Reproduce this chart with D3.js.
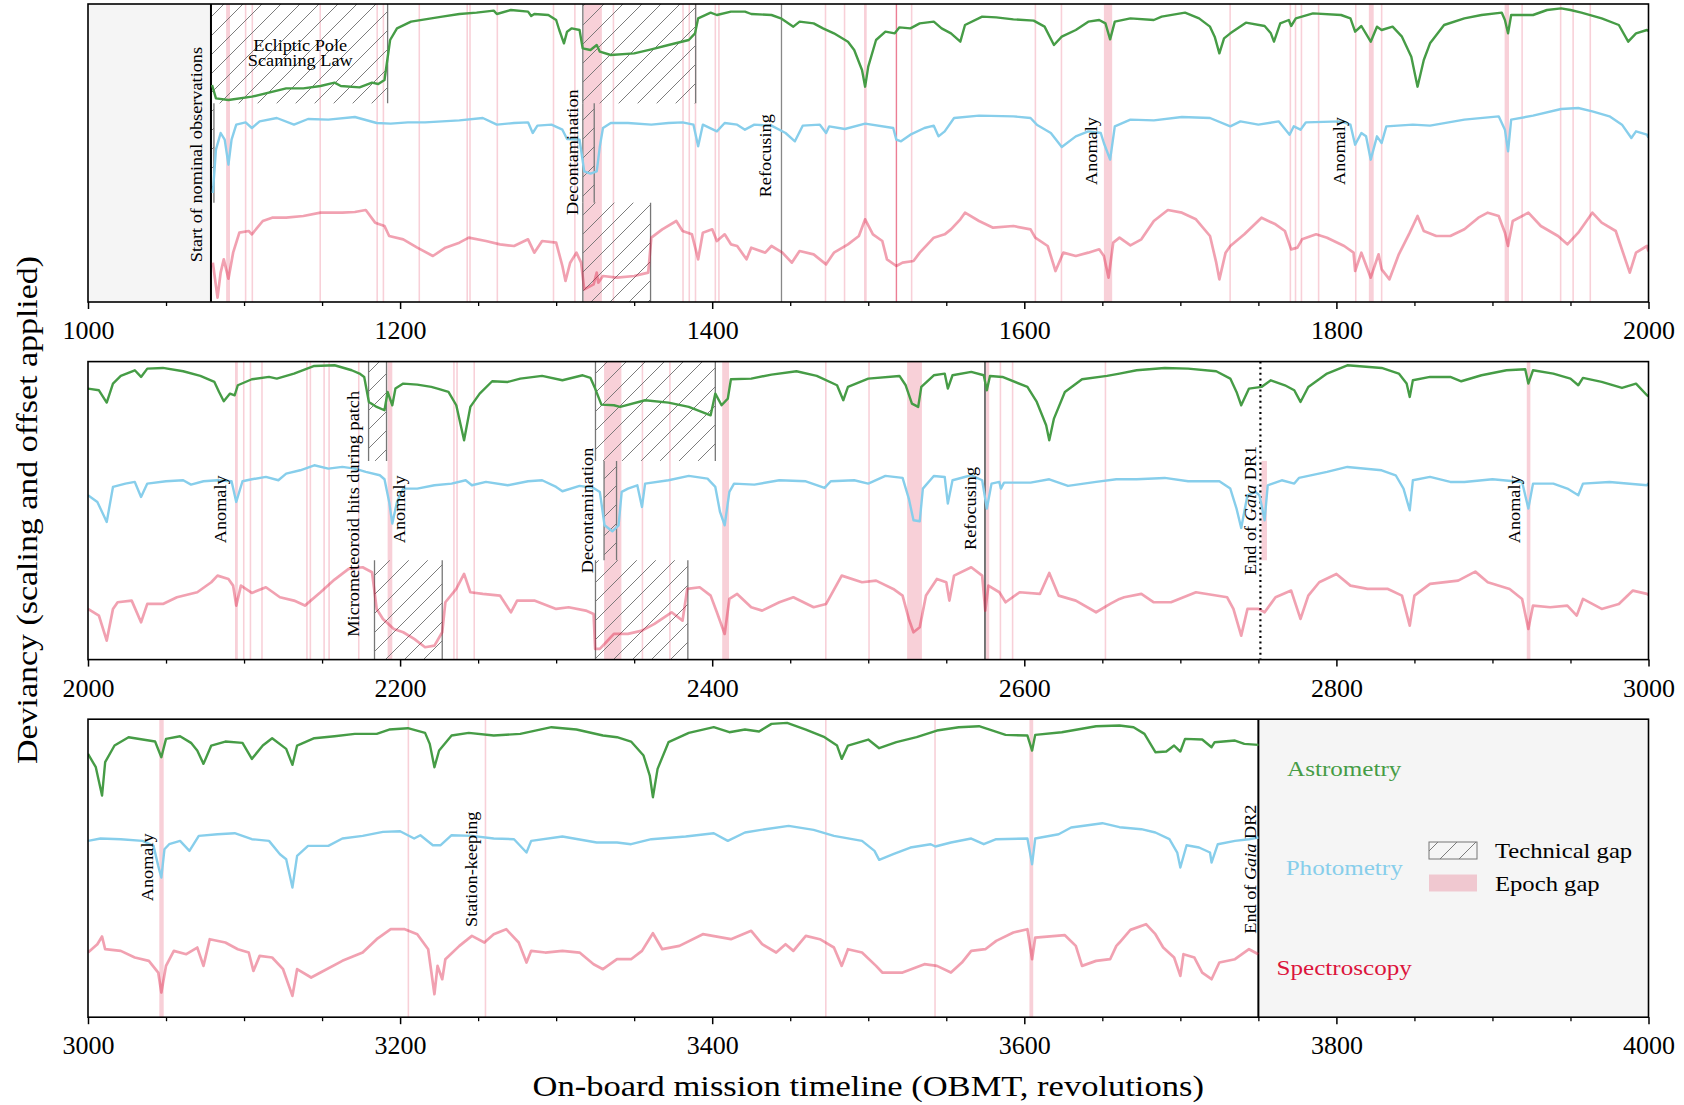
<!DOCTYPE html>
<html>
<head>
<meta charset="utf-8">
<script src="https://cdn.jsdelivr.net/npm/d3@7"></script>
<style>
html,body{margin:0;padding:0;background:#fff;}
svg{display:block;}
text{font-family:"Liberation Serif","Times New Roman",serif;fill:#000;}
</style>
</head>
<body>
<svg id="chart" width="1684" height="1105"></svg>
<script>
// ================= DATA =================
const panelStarts = [1000, 2000, 3000];
const tickLabels = [
  [1000,1200,1400,1600,1800,2000],
  [2000,2200,2400,2600,2800,3000],
  [3000,3200,3400,3600,3800,4000]
];
const minorTickStep = 50;
const seriesNames = ["Astrometry","Photometry","Spectroscopy"];

// [OBMT revolution, deviancy (arbitrary units, one band = 298 units)]
const astrometry = [
[1079.5,55],[1082,15],[1090,10],[1105,20],[1127,45],[1138,45],[1149,52],[1158,62],[1162,52],[1174,48],[1182,62],[1186,58],[1190,70],[1193.6,190],[1198,225],[1207,245],[1216,252],[1227,260],[1238,268],[1249,272],[1260,278],[1262,268],[1271,280],[1282,275],[1284,262],[1286,268],[1295,265],[1300,250],[1302,220],[1305,180],[1307,215],[1310,225],[1315,220],[1317,165],[1322,160],[1326,175],[1328,155],[1335,145],[1350,150],[1361,162],[1372,175],[1385,190],[1389,210],[1391,255],[1399,272],[1403,265],[1412,275],[1421,275],[1425,268],[1438,265],[1444,255],[1452,230],[1456,245],[1465,240],[1471,225],[1478,210],[1487,185],[1491,160],[1496,100],[1498,50],[1500,110],[1505,190],[1511,215],[1517,210],[1520,228],[1527,225],[1533,240],[1542,245],[1547,225],[1553,210],[1559,185],[1562,235],[1573,260],[1582,258],[1593,252],[1606,248],[1613,230],[1619,175],[1624,200],[1633,220],[1641,245],[1648,250],[1652,240],[1655,192],[1658,245],[1668,255],[1683,250],[1688,260],[1703,272],[1712,255],[1719,230],[1722,200],[1725,150],[1728,195],[1732,210],[1742,242],[1754,232],[1758,210],[1760,185],[1764,240],[1769.5,250],[1771,232],[1774,255],[1785,270],[1803,265],[1809,255],[1812,215],[1816,232],[1822,185],[1826,230],[1829,220],[1836,230],[1842,200],[1848,140],[1852,50],[1856,130],[1860,180],[1869,235],[1882,255],[1893,265],[1906,272],[1908,250],[1910,210],[1912,265],[1926,265],[1935,280],[1944,285],[1950,280],[1957,272],[1970,255],[1981,235],[1987,185],[1992,210],[1999,220],
[2000,217],[2007,212],[2012,175],[2016,232],[2021,255],[2030,272],[2034,252],[2038,277],[2048,279],[2061,269],[2072,255],[2081,237],[2084,207],[2087,179],[2091,202],[2094,197],[2096,227],[2105,245],[2116,252],[2121,247],[2132,262],[2145,285],[2158,287],[2169,272],[2174,262],[2177,252],[2180,177],[2185,162],[2190,152],[2192,207],[2195,167],[2197,217],[2202,232],[2211,229],[2220,222],[2224,217],[2231,207],[2236,167],[2241,62],[2245,162],[2251,202],[2259,239],[2269,237],[2277,247],[2291,255],[2304,242],[2317,257],[2322,249],[2325,217],[2329,169],[2337,167],[2341,162],[2357,182],[2372,175],[2385,162],[2399,137],[2402,202],[2406,167],[2410,187],[2412,245],[2425,247],[2438,259],[2454,269],[2467,255],[2480,227],[2484,182],[2487,222],[2500,247],[2520,255],[2524,227],[2528,172],[2532,162],[2534,222],[2542,257],[2549,262],[2551,217],[2554,257],[2566,267],[2574,257],[2576,212],[2578,255],[2586,252],[2602,222],[2608,177],[2614,107],[2616,62],[2619,127],[2626,207],[2637,245],[2653,255],[2661,262],[2672,272],[2690,279],[2705,277],[2723,269],[2732,247],[2736,207],[2739,167],[2744,217],[2752,222],[2758,242],[2767,227],[2773,212],[2777,177],[2782,222],[2794,262],[2807,287],[2829,279],[2840,262],[2845,232],[2847,192],[2849,242],[2860,252],[2873,252],[2880,239],[2893,257],[2909,272],[2921,275],[2923,232],[2926,272],[2939,262],[2950,247],[2955,227],[2958,249],[2970,237],[2983,219],[2992,232],[2999,197],
[3000,194],[3005,154],[3009,69],[3011,169],[3017,219],[3026,244],[3035,237],[3043,231],[3047,184],[3050,239],[3059,247],[3066,227],[3070,204],[3074,164],[3079,219],[3088,231],[3099,227],[3105,179],[3112,219],[3118,241],[3127,209],[3131,161],[3134,219],[3145,241],[3158,247],[3171,254],[3185,254],[3193,267],[3205,271],[3216,257],[3219,224],[3222,154],[3225,204],[3233,249],[3244,257],[3260,249],[3277,254],[3297,274],[3313,267],[3330,249],[3339,244],[3348,231],[3356,189],[3360,129],[3362,64],[3365,149],[3372,229],[3385,257],[3401,274],[3411,259],[3421,267],[3430,261],[3438,284],[3448,287],[3460,267],[3472,244],[3480,219],[3483,179],[3487,219],[3500,237],[3507,211],[3518,229],[3531,244],[3544,264],[3558,274],[3571,277],[3588,251],[3602,249],[3605,204],[3607,251],[3624,259],[3646,277],[3661,279],[3670,274],[3677,254],[3684,199],[3691,201],[3696,219],[3700,201],[3703,239],[3714,237],[3720,214],[3722,229],[3735,234],[3741,224],[3750,221]
];

const photometry = [
[1080,29],[1082,159],[1085,209],[1087.6,189],[1090,114],[1092,189],[1095,234],[1101,241],[1105,224],[1110,244],[1121,254],[1132,234],[1141,251],[1154,249],[1171,257],[1185,239],[1194,237],[1205,241],[1216,241],[1238,247],[1253,254],[1262,234],[1273,239],[1282,241],[1285,209],[1288,231],[1297,234],[1304,219],[1307,191],[1315,189],[1318,94],[1322,87],[1326,94],[1328,169],[1330,224],[1335,239],[1346,239],[1361,234],[1372,239],[1381,241],[1388,234],[1391,169],[1394,234],[1403,214],[1408,239],[1416,234],[1421,219],[1427,234],[1438,231],[1447,209],[1453,184],[1458,231],[1469,234],[1473,209],[1475,229],[1485,221],[1498,237],[1516,224],[1518,189],[1521,184],[1527,204],[1536,224],[1542,231],[1545,199],[1549,214],[1555,254],[1571,261],[1593,259],[1604,254],[1608,234],[1617,209],[1624,167],[1633,199],[1641,214],[1649,209],[1651,179],[1655,129],[1658,229],[1668,249],[1683,247],[1701,257],[1719,254],[1732,229],[1738.5,244],[1750,234],[1763,244],[1770,204],[1772.7,229],[1777,219],[1780.5,241],[1803,244],[1809,234],[1812,174],[1816,209],[1819,199],[1822,129],[1826,199],[1829,179],[1832,229],[1849,234],[1860,231],[1882,249],[1904,259],[1908,219],[1910,154],[1912,249],[1926,261],[1944,281],[1955,284],[1964,274],[1975,259],[1983,234],[1989,194],[1992,214],[1999,204],
[2000,195],[2006,175],[2010,135],[2012,115],[2016,220],[2024,230],[2030,235],[2034,190],[2038,230],[2050,237],[2061,240],[2066,227],[2074,237],[2083,240],[2092,237],[2095,175],[2099,237],[2105,243],[2114,250],[2122,240],[2127,260],[2136,270],[2145,285],[2154,275],[2163,280],[2171,275],[2178,265],[2187,255],[2190,243],[2193,175],[2195,110],[2198,175],[2202,215],[2211,215],[2222,225],[2233,230],[2242,240],[2246,225],[2255,235],[2269,225],[2282,237],[2291,240],[2300,220],[2304,207],[2315,223],[2324,217],[2328,205],[2331,105],[2336,87],[2340,105],[2342,205],[2346,215],[2352,225],[2355,160],[2357,230],[2372,240],[2385,253],[2397,245],[2402,220],[2405,145],[2408,105],[2411,205],[2414,230],[2427,227],[2443,240],[2460,237],[2472,217],[2476,237],[2491,240],[2500,230],[2511,253],[2522,247],[2526,185],[2529,120],[2533,117],[2535,215],[2542,253],[2549,250],[2551,170],[2554,240],[2566,255],[2573,240],[2576,155],[2579,230],[2584,235],[2585,215],[2587,233],[2604,233],[2616,243],[2628,223],[2646,235],[2659,243],[2672,243],[2690,247],[2705,237],[2725,237],[2732,215],[2736,155],[2739,97],[2743,195],[2748,205],[2750.7,195],[2754,120],[2756,225],[2765,240],[2773,230],[2776,247],[2794,265],[2807,280],[2829,270],[2838,255],[2843,215],[2847,150],[2849,240],[2860,250],[2873,235],[2882,235],[2900,243],[2919,235],[2923,155],[2926,230],[2939,230],[2948,215],[2955,195],[2958,230],[2975,235],[2999,225],
[3000,231],[3008,238],[3021,236],[3035,231],[3042,216],[3045,156],[3047,121],[3049,206],[3052,221],[3059,231],[3065,201],[3071,246],[3083,251],[3094,254],[3105,236],[3116,231],[3123,191],[3127,176],[3131,91],[3134,186],[3141,216],[3154,216],[3163,238],[3176,246],[3189,258],[3200,260],[3209,238],[3213,248],[3221,218],[3226,218],[3233,248],[3246,246],[3260,238],[3273,236],[3281,196],[3284,231],[3304,244],[3326,226],[3339,226],[3348,221],[3361,236],[3383,244],[3401,254],[3410,231],[3421,256],[3434,266],[3449,276],[3465,264],[3478,246],[3496,231],[3504,201],[3507,174],[3516,191],[3527,211],[3540,221],[3543,214],[3553,226],[3566,238],[3574,221],[3582,236],[3602,238],[3605,161],[3607,238],[3622,251],[3630,271],[3650,284],[3661,272],[3675,266],[3684,256],[3693,236],[3698,196],[3700,151],[3704,218],[3712,211],[3719,196],[3720,166],[3724,221],[3735,231],[3744,236],[3750,241]
];

const spectroscopy = [
[1080,118],[1083,13],[1085,88],[1087,128],[1090,70],[1093,148],[1097,208],[1103,213],[1105,203],[1112,243],[1118,253],[1127,253],[1138,258],[1149,268],[1163,268],[1171,270],[1178,276],[1184,238],[1190,228],[1193,198],[1202,188],[1211,163],[1221,138],[1229,163],[1238,178],[1244,193],[1255,183],[1264,173],[1273,168],[1282,188],[1286,148],[1291,183],[1300,178],[1304,108],[1306,63],[1309,118],[1313,148],[1316,118],[1318,38],[1324,53],[1326,88],[1327,58],[1330,78],[1339,73],[1350,78],[1359,88],[1361,193],[1368,218],[1377,243],[1381,213],[1387,203],[1391,128],[1394,208],[1400,218],[1403,183],[1408,203],[1412,173],[1416,168],[1422,128],[1425,163],[1434,148],[1438,168],[1445,148],[1451,118],[1456,153],[1465,143],[1473,113],[1478,148],[1487,173],[1494,198],[1498,248],[1503,203],[1509,183],[1512,128],[1518,108],[1522,118],[1529,123],[1533,148],[1542,193],[1549,203],[1553,218],[1559,248],[1562,268],[1571,243],[1580,223],[1593,228],[1604,218],[1607,193],[1615,168],[1620,93],[1625,148],[1633,138],[1641,148],[1648,158],[1651,138],[1654,73],[1657,178],[1661,193],[1668,170],[1675,188],[1683,243],[1692,276],[1701,268],[1710,248],[1719,198],[1723,118],[1725,68],[1729,148],[1732,168],[1741,203],[1752,253],[1761,233],[1767,213],[1771,158],[1775,163],[1778,188],[1787,203],[1794,193],[1805,168],[1811,148],[1812,93],[1816,148],[1822,73],[1827,143],[1829,98],[1834,68],[1840,143],[1847,208],[1852,258],[1856,213],[1864,198],[1873,198],[1882,218],[1891,253],[1897,268],[1904,258],[1908,208],[1910,168],[1913,243],[1923,268],[1931,228],[1942,198],[1948,173],[1955,208],[1964,268],[1970,238],[1979,213],[1988,88],[1992,148],[1999,168],
[2000,152],[2007,132],[2012,57],[2016,152],[2019,172],[2028,177],[2034,112],[2038,167],[2048,167],[2057,187],[2070,202],[2079,232],[2083,252],[2090,242],[2093,222],[2095,162],[2098,222],[2105,200],[2114,217],[2123,187],[2132,177],[2139,162],[2149,202],[2158,240],[2167,272],[2176,277],[2182,262],[2185,152],[2189,122],[2196,92],[2202,82],[2209,62],[2216,37],[2222,42],[2227,82],[2229,172],[2236,212],[2241,257],[2245,202],[2253,197],[2264,192],[2271,142],[2275,177],[2286,177],[2300,152],[2308,157],[2319,147],[2324,137],[2325,32],[2328,32],[2332,52],[2337,77],[2346,77],[2355,87],[2363,107],[2374,142],[2381,117],[2384,212],[2392,217],[2399,192],[2403,142],[2408,77],[2411,182],[2416,197],[2425,157],[2432,147],[2443,172],[2452,187],[2465,157],[2473,167],[2483,252],[2496,232],[2505,237],[2516,212],[2522,192],[2526,122],[2529,82],[2533,97],[2537,192],[2544,242],[2550,232],[2552,177],[2555,252],[2566,277],[2573,252],[2575,147],[2577,222],[2584,202],[2588,172],[2597,202],[2610,197],[2616,260],[2622,192],[2633,177],[2646,142],[2655,167],[2661,182],[2664,187],[2675,197],[2683,172],[2694,172],[2710,202],[2730,187],[2734,152],[2739,72],[2743,152],[2750,152],[2754,142],[2761,187],[2771,207],[2777,122],[2782,192],[2789,232],[2800,257],[2809,222],[2820,212],[2833,212],[2842,192],[2847,102],[2850,192],[2860,227],[2878,237],[2889,264],[2897,232],[2911,212],[2919,182],[2923,92],[2926,162],[2937,157],[2948,162],[2954,132],[2958,182],[2970,152],[2981,167],[2990,207],[2999,197],
[3000,194],[3006,219],[3009,242],[3011,204],[3021,199],[3030,179],[3039,169],[3045,134],[3047,74],[3050,154],[3055,199],[3063,189],[3070,209],[3074,154],[3078,234],[3088,224],[3096,204],[3103,194],[3106,139],[3110,184],[3118,179],[3125,144],[3131,64],[3134,144],[3143,119],[3149,134],[3163,169],[3176,194],[3185,234],[3194,264],[3203,264],[3211,249],[3218,204],[3222,69],[3224,154],[3227,114],[3229,174],[3238,214],[3246,244],[3254,224],[3260,249],[3268,264],[3276,224],[3281,164],[3284,199],[3293,194],[3304,199],[3315,194],[3324,159],[3330,144],[3339,174],[3348,174],[3355,199],[3362,252],[3368,204],[3379,214],[3394,249],[3412,234],[3425,259],[3432,219],[3441,194],[3447,219],[3452,199],[3460,244],[3469,234],[3478,209],[3483,154],[3487,204],[3496,194],[3505,154],[3509,134],[3522,134],[3536,159],[3544,154],[3553,134],[3560,164],[3566,199],[3575,204],[3582,229],[3593,254],[3602,264],[3605,174],[3607,239],[3626,246],[3633,214],[3637,154],[3646,169],[3655,174],[3659,214],[3661,224],[3668,262],[3678,279],[3684,249],[3689,209],[3696,179],[3700,124],[3702,189],[3709,179],[3714,134],[3720,114],[3725,164],[3735,174],[3744,204],[3750,189]
];

// epoch gaps [start, end] (all instruments)
const epochGaps = [
[1088.5,1091],[1100.5,1101.5],[1104.8,1105.8],[1148.3,1149.3],[1184.8,1185.8],[1188.8,1189.8],[1211.8,1212.8],[1242.5,1243.5],[1244.3,1245.3],[1261.8,1262.8],[1297.8,1298.8],[1311.5,1312.5],[1317.5,1329.3],[1336.2,1337.2],[1380.8,1381.8],[1384.8,1385.8],[1388.8,1389.8],[1401.5,1402.5],[1403.8,1404.8],[1472.1,1473.1],[1484.3,1485.3],[1497.3,1499],[1527.3,1528.3],[1606.6,1607.6],[1623.3,1624.3],[1651,1656.3],[1731.4,1732.4],[1770,1771],[1773.3,1774.3],[1777.1,1778.1],[1788.1,1789.1],[1811.9,1812.9],[1820.8,1823.9],[1828.5,1829.5],[1907.8,1910.6],[1918.5,1919.5],[1943.2,1944.2],[1951.2,1952.2],[1962.2,1963.2],
[2094.2,2096],[2099.3,2100.3],[2103.6,2104.6],[2111,2112],[2139.8,2140.8],[2142,2143],[2150.8,2151.8],[2154,2155],[2173,2174],[2192,2195],[2234,2235],[2236,2237],[2247,2248],[2330.7,2341.8],[2354.8,2355.8],[2372.4,2373.4],[2406.4,2410.8],[2472.3,2473.3],[2500,2501],[2524.9,2534.4],[2575.5,2577.5],[2584.2,2585.2],[2592,2593],[2651.5,2652.5],[2922,2924.3],
[3045.7,3048.5],[3204.8,3205.8],[3254.2,3255.2],[3472.3,3473.3],[3542.3,3543.3],[3603.3,3605.7]
];
const strongEpochGaps = [[1517.6,1518.5]];
const instrumentEpochGaps = [[2752,2755.5,"Photometry"]];

// technical gaps [start, end, instrument]
const technicalGaps = [
[1078.8,1192,"Astrometry"],[1078.8,1080.7,"Photometry"],
[1317.1,1389.4,"Astrometry"],[1317.1,1324.4,"Photometry"],[1317.1,1360.5,"Spectroscopy"],
[2179.8,2191.3,"Astrometry"],[2183.6,2227,"Spectroscopy"],
[2325.2,2402,"Astrometry"],[2330.7,2338.7,"Photometry"],[2325.2,2384.4,"Spectroscopy"]
];
const outsidePeriods = [[1000,1078.8],[3750,4000]];
const eventRevs = [[1078.8,"start"],[1444.4,"refocus"],[2574.8,"refocusDark"],[2751.3,"dr1"],[3750,"dr2"]];

// [revolution of baseline, level in bands from panel bottom, label]
const annotations = [
[1073.2,0.40,"Start of nominal observations"],
[1313.7,0.876,"Decontamination"],
[1437.4,1.054,"Refocusing"],
[1646.3,1.178,"Anomaly"],
[1805.8,1.178,"Anomaly"],
[2088.6,1.171,"Anomaly"],
[2173.6,0.231,"Micrometeoroid hits during patch"],
[2203.4,1.171,"Anomaly"],
[2323.6,0.869,"Decontamination"],
[2569.0,1.103,"Refocusing"],
[2748.4,0.852,"End of Gaia DR1"],
[2917.6,1.171,"Anomaly"],
[3041.6,1.167,"Anomaly"],
[3249.0,0.908,"Station-keeping"],
[3748.6,0.84,"End of Gaia DR2"]
];
const horizontalNote = {rev:1136, levels:[2.527,2.372], lines:["Ecliptic Pole","Scanning Law"]};
const seriesLabelRev = 3805;

// ================= DRAWING =================
const SERIF = '"Liberation Serif","Times New Roman",serif';
const svg = d3.select("#chart");
const L = 88, R = 1648.5, TOP0 = 4, PH = 298, PSTEP = 357.6, BANDUNITS = 298;
const bandIndex = {Astrometry:2, Photometry:1, Spectroscopy:0};
const seriesStyle = {
  Astrometry:{data:astrometry, color:"#469c46", opacity:1, width:2.4},
  Photometry:{data:photometry, color:"#87ceeb", opacity:1, width:2.4},
  Spectroscopy:{data:spectroscopy, color:"#dc143c", opacity:0.4, width:2.7}
};
const labelColor = {Astrometry:"#469c46", Photometry:"#87ceeb", Spectroscopy:"#dc143c"};
const CRIMSON = "#dc143c";

function stretch(sel, f){
  sel.each(function(){
    const len = this.getComputedTextLength();
    if (len > 0) d3.select(this).attr("textLength", len*f).attr("lengthAdjust","spacingAndGlyphs");
  });
}
function addLabel(textSel, str){
  if (str.includes("Gaia")) {
    const parts = str.split("Gaia");
    textSel.append("tspan").text(parts[0]);
    textSel.append("tspan").style("font-style","italic").text("Gaia");
    textSel.append("tspan").text(parts[1]);
  } else textSel.text(str);
}

const defs = svg.append("defs");
const pat = defs.append("pattern").attr("id","hatch").attr("patternUnits","userSpaceOnUse")
  .attr("width",19).attr("height",19);
pat.append("path").attr("d","M-2,2 L2,-2 M0,19 L19,0 M17,21 L21,17")
  .attr("stroke","#6e6e6e").attr("stroke-width",0.9).attr("fill","none");

panelStarts.forEach((s, i) => {
  const top = TOP0 + i*PSTEP, bottom = top + PH;
  const x = d3.scaleLinear().domain([s, s+1000]).range([L, R]);
  const y = d3.scaleLinear().domain([0, 3]).range([bottom, top]);
  const inPanel = (a,b) => b >= s && a <= s+1000;

  defs.append("clipPath").attr("id","clip"+i).append("rect")
    .attr("x",L).attr("y",top).attr("width",R-L).attr("height",PH);
  const g = svg.append("g").attr("clip-path",`url(#clip${i})`);

  g.selectAll("rect.out").data(outsidePeriods.filter(d=>inPanel(d[0],d[1]))).enter()
    .append("rect").attr("x",d=>x(d[0])).attr("width",d=>x(d[1])-x(d[0]))
    .attr("y",top).attr("height",PH).attr("fill","#f5f5f5");

  g.selectAll("rect.eg").data(epochGaps.filter(d=>inPanel(d[0],d[1]))).enter()
    .append("rect").attr("x",d=>x(d[0])).attr("width",d=>Math.max(1.2,x(d[1])-x(d[0])))
    .attr("y",top).attr("height",PH).attr("fill",CRIMSON).attr("fill-opacity",0.2);
  g.selectAll("rect.egs").data(strongEpochGaps.filter(d=>inPanel(d[0],d[1]))).enter()
    .append("rect").attr("x",d=>x(d[0])).attr("width",d=>Math.max(1.2,x(d[1])-x(d[0])))
    .attr("y",top).attr("height",PH).attr("fill",CRIMSON).attr("fill-opacity",0.55);
  g.selectAll("rect.egi").data(instrumentEpochGaps.filter(d=>inPanel(d[0],d[1]))).enter()
    .append("rect").attr("x",d=>x(d[0])).attr("width",d=>x(d[1])-x(d[0]))
    .attr("y",d=>y(bandIndex[d[2]]+1)).attr("height",d=>y(bandIndex[d[2]])-y(bandIndex[d[2]]+1))
    .attr("fill",CRIMSON).attr("fill-opacity",0.2);

  const tg = technicalGaps.filter(d=>inPanel(d[0],d[1]));
  g.selectAll("rect.tg").data(tg).enter().append("rect")
    .attr("x",d=>x(d[0])).attr("width",d=>x(d[1])-x(d[0]))
    .attr("y",d=>y(bandIndex[d[2]]+1)).attr("height",d=>y(bandIndex[d[2]])-y(bandIndex[d[2]]+1))
    .attr("fill","url(#hatch)");
  tg.forEach(d => {
    [d[0], d[1]].forEach(v => {
      g.append("line").attr("x1",x(v)).attr("x2",x(v))
        .attr("y1",y(bandIndex[d[2]]+1)).attr("y2",y(bandIndex[d[2]]))
        .attr("stroke","#777").attr("stroke-width",1.3);
    });
  });

  const evStyle = {
    start:{c:"#000",w:2,dash:null}, refocus:{c:"#888",w:1.3,dash:null},
    refocusDark:{c:"#555",w:1.6,dash:null}, dr1:{c:"#000",w:2.2,dash:"2,3.6"}, dr2:{c:"#000",w:2,dash:null}
  };
  eventRevs.filter(d=>d[0]>=s && d[0]<=s+1000).forEach(d => {
    const st = evStyle[d[1]];
    g.append("line").attr("x1",x(d[0])).attr("x2",x(d[0])).attr("y1",top).attr("y2",bottom)
      .attr("stroke",st.c).attr("stroke-width",st.w).attr("stroke-dasharray",st.dash);
  });

  seriesNames.forEach(name => {
    const st = seriesStyle[name];
    const off = bandIndex[name];
    const pts = st.data.filter(d => d[0] >= s && d[0] <= s+1000);
    const line = d3.line().x(d=>x(d[0])).y(d=>y(off + d[1]/BANDUNITS));
    g.append("path").datum(pts).attr("d",line).attr("fill","none")
      .attr("stroke",st.color).attr("stroke-opacity",st.opacity)
      .attr("stroke-width",st.width).attr("stroke-linejoin","round");
  });

  annotations.filter(d=>d[0]>=s && d[0]<=s+1000).forEach(d => {
    const t = svg.append("text").attr("transform",`translate(${x(d[0])},${y(d[1])}) rotate(-90)`)
      .attr("text-anchor","start").style("font-size","16px");
    addLabel(t, d[2]);
    stretch(t, 1.14);
  });
  if (horizontalNote.rev >= s && horizontalNote.rev <= s+1000) {
    horizontalNote.lines.forEach((ln, k) => {
      const t = svg.append("text").attr("x",x(horizontalNote.rev)).attr("y",y(horizontalNote.levels[k]))
        .attr("text-anchor","middle").style("font-size","16px").text(ln);
      stretch(t, 1.14);
    });
  }

  if (seriesLabelRev >= s && seriesLabelRev <= s+1000) {
    seriesNames.forEach(name => {
      const t = svg.append("text").attr("x",x(seriesLabelRev)).attr("y",y(bandIndex[name]+0.5))
        .attr("dy","0.32em").attr("text-anchor","middle").style("font-size","22px")
        .style("fill",labelColor[name]).text(name);
      stretch(t, 1.14);
    });
    svg.append("rect").attr("x",1429).attr("y",842).attr("width",48).attr("height",17)
      .attr("fill","url(#hatch)").attr("stroke","#777").attr("stroke-width",1);
    svg.append("rect").attr("x",1429).attr("y",874.5).attr("width",48).attr("height",17)
      .attr("fill",CRIMSON).attr("fill-opacity",0.2);
    const t1 = svg.append("text").attr("x",1495).attr("y",857.5).style("font-size","22px").text("Technical gap");
    const t2 = svg.append("text").attr("x",1495).attr("y",890.5).style("font-size","22px").text("Epoch gap");
    stretch(t1, 1.12); stretch(t2, 1.12);
  }

  svg.append("rect").attr("x",L).attr("y",top).attr("width",R-L).attr("height",PH)
    .attr("fill","none").attr("stroke","#000").attr("stroke-width",1.6);

  const minor = d3.range(s, s+1000+1, minorTickStep).filter(v => !tickLabels[i].includes(v));
  const ax = svg.append("g").attr("transform",`translate(0,${bottom})`)
    .call(d3.axisBottom(x).tickValues(tickLabels[i]).tickSize(7).tickPadding(11.5).tickFormat(d3.format("d")));
  ax.attr("font-family", SERIF).attr("font-size", 26);
  ax.select(".domain").remove();
  ax.selectAll("line").attr("stroke","#000").attr("stroke-width",1.5);
  ax.selectAll("text").style("font-family",SERIF).style("font-size","26px").attr("fill","#000");
  const axm = svg.append("g").attr("transform",`translate(0,${bottom})`)
    .call(d3.axisBottom(x).tickValues(minor).tickSize(4).tickFormat(""));
  axm.select(".domain").remove();
  axm.selectAll("line").attr("stroke","#000").attr("stroke-width",1.3);
});

const xl = svg.append("text").attr("x",(L+R)/2).attr("y",1096).attr("text-anchor","middle")
  .style("font-size","29px").text("On-board mission timeline (OBMT, revolutions)");
stretch(xl, 1.19);
const yl = svg.append("text").attr("transform","translate(37,510) rotate(-90)").attr("text-anchor","middle")
  .style("font-size","29px").text("Deviancy (scaling and offset applied)");
stretch(yl, 1.17);
</script>
</body>
</html>
